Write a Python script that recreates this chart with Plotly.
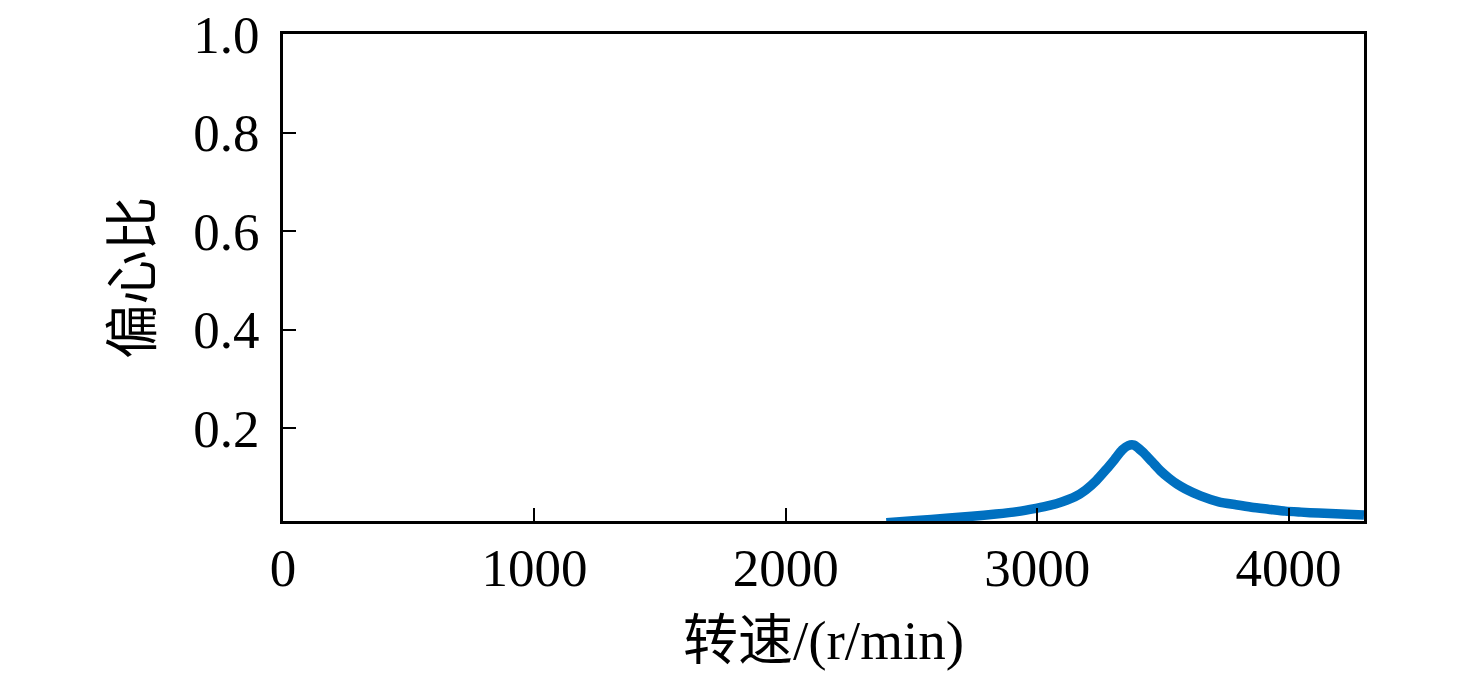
import plotly.graph_objects as go

speed = [2400, 2520, 2638, 2740, 2836, 2920, 2995, 3050, 3100, 3150, 3193, 3235,
         3272, 3308, 3338, 3362, 3385, 3420, 3457, 3490, 3524, 3556, 3590, 3650,
         3722, 3790, 3853, 3920, 3987, 4050, 4119, 4210, 4300]
ecc = [0.0087, 0.013, 0.0175, 0.0215, 0.026, 0.031, 0.0377, 0.0435, 0.051, 0.061,
       0.075, 0.094, 0.115, 0.137, 0.156, 0.165, 0.166, 0.152, 0.132, 0.114,
       0.099, 0.087, 0.077, 0.063, 0.051, 0.045, 0.040, 0.036, 0.032, 0.030,
       0.028, 0.026, 0.024]

x_ticks = [0, 1000, 2000, 3000, 4000]
y_ticks = [0.2, 0.4, 0.6, 0.8, 1.0]

font_family = "Liberation Serif, Noto Sans CJK SC"

fig = go.Figure()
fig.add_trace(go.Scatter(x=speed, y=ecc, mode="lines",
                         line=dict(color="#0070C0", width=9.5, shape="spline", smoothing=0.6),
                         showlegend=False))

axis_common = dict(showline=True, linecolor="black", linewidth=3, mirror=True,
                   ticks="inside", ticklen=13, tickwidth=2, tickcolor="black",
                   showgrid=False, zeroline=False, automargin=False,
                   ticklabeloverflow="allow",
                   tickfont=dict(family=font_family, size=53, color="black"))

fig.update_layout(
    width=1476, height=682,
    margin=dict(l=275, r=120, t=26, b=169, autoexpand=False),
    paper_bgcolor="white", plot_bgcolor="white",
    xaxis=dict(range=[0, 4300], tickvals=x_ticks, ticklabelstandoff=-2,
               title=dict(text="转速/(r/min)", font=dict(family=font_family, size=55, color="black"),
                          standoff=25),
               **axis_common),
    yaxis=dict(range=[0.012, 1.0], tickvals=y_ticks, tickformat=".1f", ticklabelstandoff=10,
               title=dict(text="偏心比", font=dict(family=font_family, size=54, color="black"),
                          standoff=24),
               **axis_common),
)

fig.write_html("out.html")
